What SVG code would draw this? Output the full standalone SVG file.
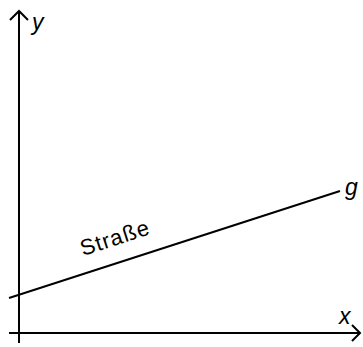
<svg xmlns="http://www.w3.org/2000/svg" width="363" height="347" viewBox="0 0 363 347">
<style>
.ax{stroke:#000;stroke-width:2;fill:none}
.lbl{font-family:"Liberation Sans",Arial,sans-serif;font-size:23px;font-style:italic;fill:#000}
.txt{font-family:"Liberation Sans",Arial,sans-serif;font-size:22px;letter-spacing:1px;fill:#000}
</style>
<rect width="363" height="347" fill="#fff"/>
<g id="axes">
<line class="ax" x1="19" y1="343" x2="19" y2="11"/>
<polyline class="ax" points="10,20 19,11 28,20"/>
<line class="ax" x1="9" y1="333" x2="360" y2="333"/>
<polyline class="ax" points="352,325 360,333 352,341"/>
</g>
<g id="connectors">
<line class="ax" x1="9" y1="298" x2="340" y2="191"/>
</g>
<g id="labels">
<text class="lbl" x="32" y="30">y</text>
<text class="lbl" x="339" y="324">x</text>
<text class="lbl" x="345" y="195">g</text>
<text class="txt" transform="translate(83,256) rotate(-18)">Straße</text>
</g>
</svg>
